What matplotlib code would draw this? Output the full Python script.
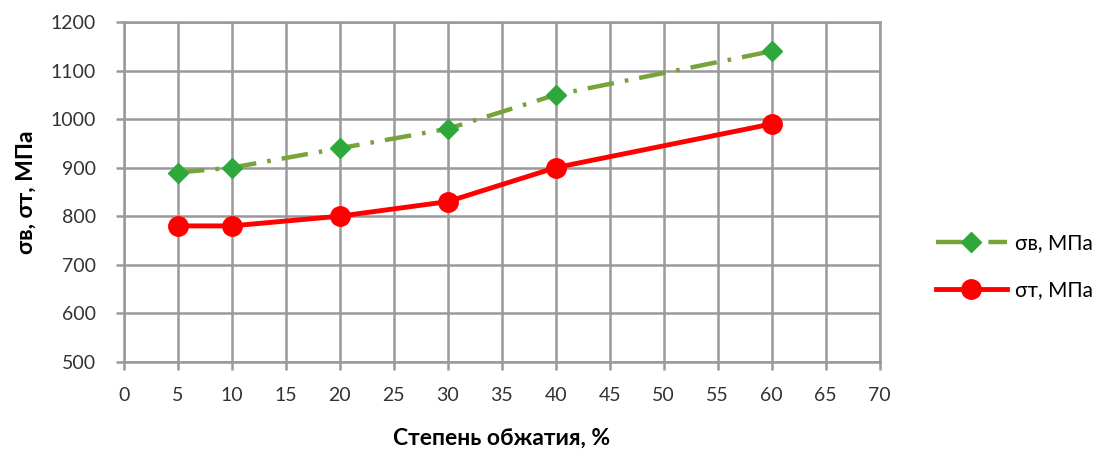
import matplotlib
matplotlib.use("Agg")
import matplotlib.pyplot as plt

# степень обжатия, %
reduction = [5, 10, 20, 30, 40, 60]
# предел прочности и предел текучести, МПа
sigma_v = [890, 900, 940, 980, 1050, 1140]
sigma_t = [780, 780, 800, 830, 900, 990]

plt.rcParams['font.family'] = ['Lato', 'DejaVu Sans']

fig = plt.figure(figsize=(11.05, 4.5), dpi=100)
ax = fig.add_axes([0.112, 0.196, 0.684, 0.755])

ax.plot(reduction, sigma_v, color="#77a33c", linestyle=(0, (6, 2.5, 0.8, 2.5)), linewidth=3.2,
        marker="D", markersize=10, markerfacecolor="#2ea83a", markeredgecolor="#2ea83a",
        label="σв, МПа", zorder=3)
ax.plot(reduction, sigma_t, color="#ff0000", linewidth=3.5,
        marker="o", markersize=14, markerfacecolor="#ff0000", markeredgecolor="#ff0000",
        label="σт, МПа", zorder=4)

ax.set_xlim(0, 70)
ax.set_ylim(500, 1200)
ax.set_xticks(range(0, 71, 5))
ax.set_yticks(range(500, 1201, 100))
ax.grid(True, color="#999999", linewidth=1.8)
ax.set_axisbelow(True)
for s in ax.spines.values():
    s.set_color("#999999")
    s.set_linewidth(1.8)
ax.tick_params(axis="both", direction="out", length=6, width=1.8, color="#999999",
               labelsize=14, labelcolor="#333333")
ax.tick_params(axis="x", pad=12)
ax.tick_params(axis="y", pad=14)

ax.set_xlabel("Степень обжатия, %", fontsize=16.5, fontweight="bold", labelpad=17)
ax.set_ylabel("σв, σт, МПа", fontsize=16.5, fontweight="bold", labelpad=10)

fig.legend(loc="center left", bbox_to_anchor=(0.83, 0.408), frameon=False,
           fontsize=15, handlelength=3.4, handletextpad=0.4, labelspacing=1.3)

fig.savefig("out.png", dpi=100)
